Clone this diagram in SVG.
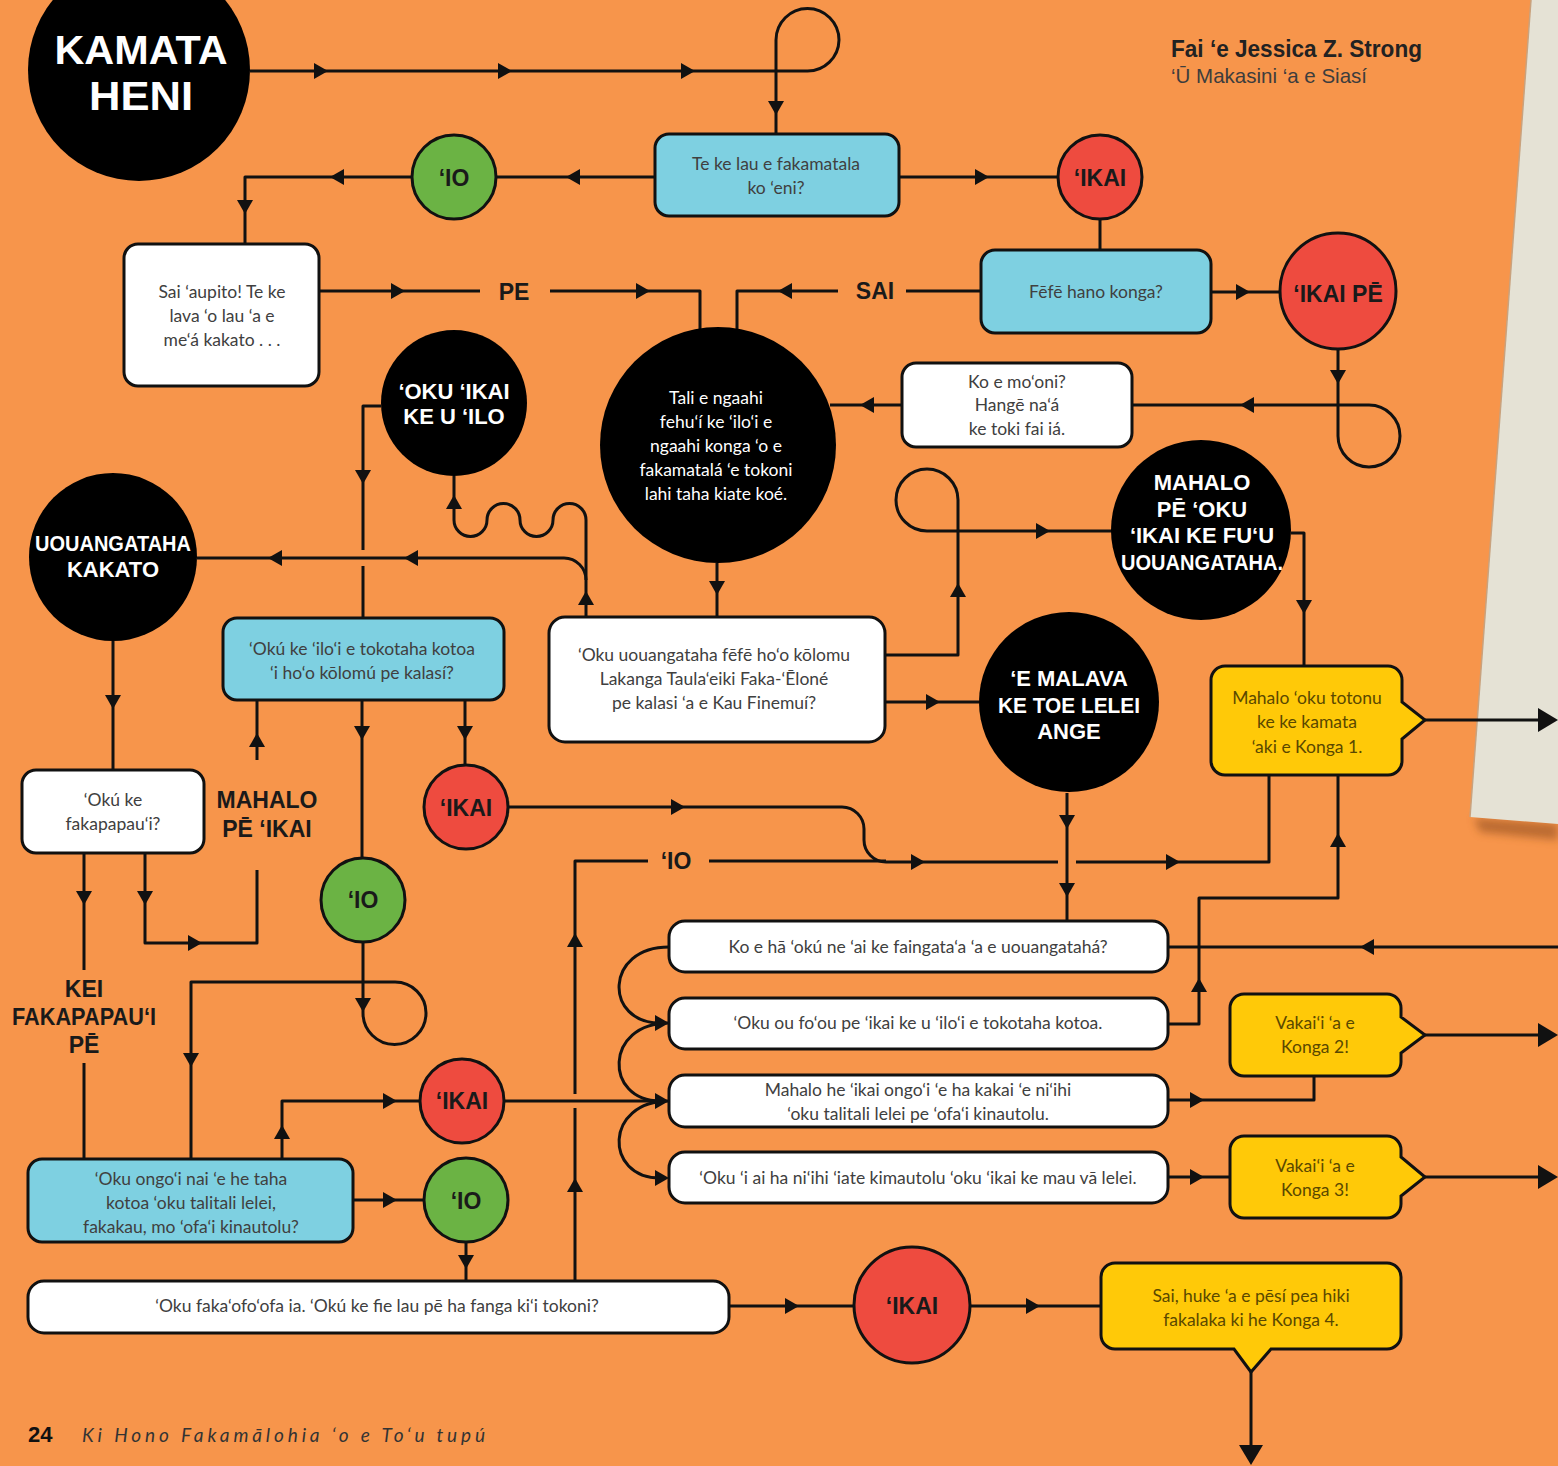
<svg xmlns="http://www.w3.org/2000/svg" width="1558" height="1466" viewBox="0 0 1558 1466">
<defs>
<style>
.ln{fill:none;stroke:#111;stroke-width:3;stroke-linejoin:round}
.bx{stroke:#111;stroke-width:3}
.blue{fill:#7ED0E1}.white{fill:#fff}.yel{fill:#FFC908}.red{fill:#EE4B3F}.grn{fill:#6BB344}.blk{fill:#000}
.t{font-family:Lato,"Open Sans",sans-serif;font-size:17.5px;fill:#404040;text-anchor:middle}
.ty{fill:#5a4800}
.tw{fill:#fff}
.lbl{font-family:"Liberation Sans",Arial,sans-serif;font-weight:700;font-size:23px;fill:#1a1a1a;text-anchor:middle}
.bl{font-family:"Liberation Sans",Arial,sans-serif;font-weight:700;fill:#fff;font-size:22px;text-anchor:middle}
.ah{fill:#111}
</style>
<path id="ah" d="M-7,-8 L7,0 L-7,8 Z"/>
<path id="ahL" d="M-10,-12 L10,0 L-10,12 Z"/>
<filter id="sh" x="-20%" y="-200%" width="140%" height="500%"><feGaussianBlur stdDeviation="4"/></filter>
</defs>

<rect x="0" y="0" width="1558" height="1466" fill="#F7954B"/>
<polygon points="1474,818 1558,824 1558,840 1480,832" fill="#8a4a1c" opacity="0.55" filter="url(#sh)"/>
<polygon points="1531,0 1558,0 1558,824 1470,817" fill="#E5E2D5"/>
<line x1="1531" y1="0" x2="1470" y2="817" stroke="#c9a27e" stroke-width="1.5"/>

<g id="connectors">
<path class="ln" d="M250,71 H807 A31.5,31.5 0 0 0 839,40 A31.5,31.5 0 0 0 776,40 V133"/>
<path class="ln" d="M655,177 H497"/>
<path class="ln" d="M411,177 H245 V244"/>
<path class="ln" d="M899,177 H1057"/>
<path class="ln" d="M1100,219 V249"/>
<path class="ln" d="M1211,292 H1280"/>
<path class="ln" d="M981,291 H906"/>
<path class="ln" d="M838,291 H737 V330"/>
<path class="ln" d="M320,291 H480"/>
<path class="ln" d="M550,291 H700 V330"/>
<path class="ln" d="M1338,349 V436 A31,31 0 0 0 1400,436 A31,31 0 0 0 1369,405 H1132"/>
<path class="ln" d="M901,405 H830"/>
<path class="ln" d="M381,406 H363 V550"/>
<path class="ln" d="M363,566 V618"/>
<path class="ln" d="M586,617 V520 A16.5,16.5 0 0 0 553,520 A16.5,16.5 0 0 1 520,520 A16.5,16.5 0 0 0 487,520 A16.5,16.5 0 0 1 454,520 V476"/>
<path class="ln" d="M586,580 A22,22 0 0 0 564,558 H197"/>
<path class="ln" d="M717,563 V617"/>
<path class="ln" d="M113,641 V770"/>
<path class="ln" d="M362,700 V858"/>
<path class="ln" d="M465,700 V765"/>
<path class="ln" d="M145,853 V943 H257 V870"/>
<path class="ln" d="M257,760 V700"/>
<path class="ln" d="M84,853 V970"/>
<path class="ln" d="M84,1063 V1159"/>
<path class="ln" d="M508,807 H842 A22,22 0 0 1 864,829 V840 A22,22 0 0 0 886,862 H1058"/>
<path class="ln" d="M1076,862 H1269 V775"/>
<path class="ln" d="M575,1281 V1108"/>
<path class="ln" d="M575,1094 V861 H648"/>
<path class="ln" d="M709,861 H886"/>
<path class="ln" d="M1067,793 V921"/>
<path class="ln" d="M886,702 H979"/>
<path class="ln" d="M886,655 H958 V500 A31,31 0 0 0 896,500 A31,31 0 0 0 927,531 H1112"/>
<path class="ln" d="M1291,533 H1304 V666"/>
<path class="ln" d="M1425,720 H1548"/>
<path class="ln" d="M1558,947 H1168"/>
<path class="ln" d="M1168,1024 H1199 V898 H1338 V775"/>
<path class="ln" d="M669,947 C604,947 604,1023 660,1023"/>
<path class="ln" d="M669,1023 C604,1023 604,1101 660,1101"/>
<path class="ln" d="M669,1101 C604,1101 604,1178 660,1178"/>
<path class="ln" d="M1168,1100 H1314 V1076"/>
<path class="ln" d="M1425,1035 H1548"/>
<path class="ln" d="M1168,1177 H1230"/>
<path class="ln" d="M1425,1177 H1548"/>
<path class="ln" d="M282,1159 V1101 H420"/>
<path class="ln" d="M504,1101 H660"/>
<path class="ln" d="M353,1200 H424"/>
<path class="ln" d="M466,1242 V1281"/>
<path class="ln" d="M729,1306 H854"/>
<path class="ln" d="M970,1306 H1101"/>
<path class="ln" d="M1251,1372 V1450"/>
<path class="ln" d="M363,942 V1013 A31,31 0 0 0 426,1013 A31,31 0 0 0 395,982 H191 V1159"/>

<g class="ah">
<use href="#ah" transform="translate(321,71)"/>
<use href="#ah" transform="translate(505,71)"/>
<use href="#ah" transform="translate(688,71)"/>
<use href="#ah" transform="translate(776,108) rotate(90)"/>
<use href="#ah" transform="translate(573,177) rotate(180)"/>
<use href="#ah" transform="translate(337,177) rotate(180)"/>
<use href="#ah" transform="translate(245,207) rotate(90)"/>
<use href="#ah" transform="translate(982,177)"/>
<use href="#ah" transform="translate(1243,292)"/>
<use href="#ah" transform="translate(785,291) rotate(180)"/>
<use href="#ah" transform="translate(398,291)"/>
<use href="#ah" transform="translate(643,291)"/>
<use href="#ah" transform="translate(1338,377) rotate(90)"/>
<use href="#ah" transform="translate(1247,405) rotate(180)"/>
<use href="#ah" transform="translate(867,405) rotate(180)"/>
<use href="#ah" transform="translate(363,477) rotate(90)"/>
<use href="#ah" transform="translate(454,502) rotate(-90)"/>
<use href="#ah" transform="translate(586,598) rotate(-90)"/>
<use href="#ah" transform="translate(411,558) rotate(180)"/>
<use href="#ah" transform="translate(275,558) rotate(180)"/>
<use href="#ah" transform="translate(717,588) rotate(90)"/>
<use href="#ah" transform="translate(113,702) rotate(90)"/>
<use href="#ah" transform="translate(362,733) rotate(90)"/>
<use href="#ah" transform="translate(465,733) rotate(90)"/>
<use href="#ah" transform="translate(145,898) rotate(90)"/>
<use href="#ah" transform="translate(195,943)"/>
<use href="#ah" transform="translate(257,740) rotate(-90)"/>
<use href="#ah" transform="translate(84,898) rotate(90)"/>
<use href="#ah" transform="translate(678,807)"/>
<use href="#ah" transform="translate(918,862)"/>
<use href="#ah" transform="translate(1173,862)"/>
<use href="#ah" transform="translate(575,940) rotate(-90)"/>
<use href="#ah" transform="translate(575,1185) rotate(-90)"/>
<use href="#ah" transform="translate(1067,822) rotate(90)"/>
<use href="#ah" transform="translate(1067,890) rotate(90)"/>
<use href="#ah" transform="translate(933,702)"/>
<use href="#ah" transform="translate(958,590) rotate(-90)"/>
<use href="#ah" transform="translate(1043,531)"/>
<use href="#ah" transform="translate(1304,607) rotate(90)"/>
<use href="#ah" transform="translate(1367,947) rotate(180)"/>
<use href="#ah" transform="translate(1199,985) rotate(-90)"/>
<use href="#ah" transform="translate(1338,840) rotate(-90)"/>
<use href="#ah" transform="translate(1197,1100)"/>
<use href="#ah" transform="translate(1197,1177)"/>
<use href="#ah" transform="translate(282,1132) rotate(-90)"/>
<use href="#ah" transform="translate(390,1101)"/>
<use href="#ah" transform="translate(390,1200)"/>
<use href="#ah" transform="translate(466,1262) rotate(90)"/>
<use href="#ah" transform="translate(792,1306)"/>
<use href="#ah" transform="translate(1033,1306)"/>
<use href="#ah" transform="translate(363,1005) rotate(90)"/>
<use href="#ah" transform="translate(191,1060) rotate(90)"/>
<use href="#ah" transform="translate(662,1023)"/>
<use href="#ah" transform="translate(662,1101)"/>
<use href="#ah" transform="translate(662,1178)"/>
<use href="#ahL" transform="translate(1548,720)"/>
<use href="#ahL" transform="translate(1548,1035)"/>
<use href="#ahL" transform="translate(1548,1177)"/>
<use href="#ahL" transform="translate(1251,1455) rotate(90)"/>
</g>
</g>

<g id="labels">
<text class="lbl" x="514" y="300">PE</text>
<text class="lbl" x="875" y="299">SAI</text>
<text class="lbl" x="676" y="869">‘IO</text>
<text class="lbl" x="267" y="808" font-size="22">MAHALO</text>
<text class="lbl" x="267" y="837" font-size="22">PĒ ‘IKAI</text>
<text class="lbl" x="84" y="997" font-size="22">KEI</text>
<text class="lbl" x="84" y="1025" font-size="22" textLength="144" lengthAdjust="spacingAndGlyphs">FAKAPAPAU‘I</text>
<text class="lbl" x="84" y="1053" font-size="22">PĒ</text>
</g>

<g id="n-kamata">
<circle class="blk" cx="139" cy="70" r="111"/>
<text x="141" y="64" font-family="'Liberation Sans',Arial,sans-serif" font-weight="700" font-size="41" fill="#fff" text-anchor="middle" textLength="173" lengthAdjust="spacingAndGlyphs">KAMATA</text>
<text x="141" y="110" font-family="'Liberation Sans',Arial,sans-serif" font-weight="700" font-size="41" fill="#fff" text-anchor="middle" textLength="104" lengthAdjust="spacingAndGlyphs">HENI</text>
</g>

<g id="n-telau">
<rect class="bx blue" x="655" y="134" width="244" height="82" rx="14"/>
<text class="t" x="776" y="170">Te ke lau e fakamatala</text>
<text class="t" x="776" y="194">ko ‘eni?</text>
</g>

<g id="n-io1"><circle class="bx grn" cx="454" cy="177" r="42"/><text class="lbl" x="454" y="186">‘IO</text></g>
<g id="n-ikai1"><circle class="bx red" cx="1100" cy="177" r="42"/><text class="lbl" x="1100" y="186">‘IKAI</text></g>

<g id="n-saiaupito">
<rect class="bx white" x="124" y="244" width="195" height="142" rx="14"/>
<text class="t" x="222" y="298">Sai ‘aupito! Te ke</text>
<text class="t" x="222" y="322">lava ‘o lau ‘a e</text>
<text class="t" x="222" y="346">me‘á kakato . . .</text>
</g>

<g id="n-fefe">
<rect class="bx blue" x="981" y="250" width="230" height="83" rx="14"/>
<text class="t" x="1096" y="298">Fēfē hano konga?</text>
</g>

<g id="n-ikaipe"><circle class="bx red" cx="1338" cy="291" r="58"/><text class="lbl" x="1338" y="302">‘IKAI PĒ</text></g>

<g id="n-komooni">
<rect class="bx white" x="902" y="363" width="230" height="84" rx="14"/>
<text class="t" x="1017" y="388">Ko e mo‘oni?</text>
<text class="t" x="1017" y="411">Hangē na‘á</text>
<text class="t" x="1017" y="435">ke toki fai iá.</text>
</g>

<g id="n-tali">
<circle class="blk" cx="718" cy="445" r="118"/>
<text class="t tw" x="716" y="404">Tali e ngaahi</text>
<text class="t tw" x="716" y="428">fehu‘í ke ‘ilo‘i e</text>
<text class="t tw" x="716" y="452">ngaahi konga ‘o e</text>
<text class="t tw" x="716" y="476">fakamatalá ‘e tokoni</text>
<text class="t tw" x="716" y="500">lahi taha kiate koé.</text>
</g>

<g id="n-okuikai">
<circle class="blk" cx="454" cy="403" r="73"/>
<text class="bl" x="454" y="399" font-size="23">‘OKU ‘IKAI</text>
<text class="bl" x="454" y="424" font-size="23">KE U ‘ILO</text>
</g>

<g id="n-kakato">
<circle class="blk" cx="113" cy="557" r="84"/>
<text class="bl" x="113" y="551" font-size="21" textLength="156" lengthAdjust="spacingAndGlyphs">UOUANGATAHA</text>
<text class="bl" x="113" y="577" font-size="21">KAKATO</text>
</g>

<g id="n-mahalope">
<circle class="blk" cx="1201" cy="530" r="90"/>
<text class="bl" x="1202" y="490" font-size="21">MAHALO</text>
<text class="bl" x="1202" y="517" font-size="21">PĒ ‘OKU</text>
<text class="bl" x="1202" y="543" font-size="21">‘IKAI KE FU‘U</text>
<text class="bl" x="1202" y="570" font-size="21" textLength="162" lengthAdjust="spacingAndGlyphs">UOUANGATAHA.</text>
</g>

<g id="n-iloi">
<rect class="bx blue" x="223" y="618" width="281" height="82" rx="14"/>
<text class="t" x="362" y="655">‘Okú ke ‘ilo‘i e tokotaha kotoa</text>
<text class="t" x="362" y="679">‘i ho‘o kōlomú pe kalasí?</text>
</g>

<g id="n-fefekolomu">
<rect class="bx white" x="549" y="617" width="336" height="125" rx="16"/>
<text class="t" x="714" y="661">‘Oku uouangataha fēfē ho‘o kōlomu</text>
<text class="t" x="714" y="685">Lakanga Taula‘eiki Faka-‘Ēloné</text>
<text class="t" x="714" y="709">pe kalasi ‘a e Kau Finemuí?</text>
</g>

<g id="n-emalava">
<circle class="blk" cx="1069" cy="702" r="90"/>
<text class="bl" x="1069" y="686" font-size="23">‘E MALAVA</text>
<text class="bl" x="1069" y="713" font-size="23" textLength="142" lengthAdjust="spacingAndGlyphs">KE TOE LELEI</text>
<text class="bl" x="1069" y="739" font-size="23">ANGE</text>
</g>

<g id="n-totonu">
<path class="bx yel" d="M1225,666 H1388 A14,14 0 0 1 1402,680 V702 L1425,720 L1402,739 V761 A14,14 0 0 1 1388,775 H1225 A14,14 0 0 1 1211,761 V680 A14,14 0 0 1 1225,666 Z"/>
<text class="t ty" x="1307" y="704">Mahalo ‘oku totonu</text>
<text class="t ty" x="1307" y="728">ke ke kamata</text>
<text class="t ty" x="1307" y="753">‘aki e Konga 1.</text>
</g>

<g id="n-fakapapau">
<rect class="bx white" x="22" y="770" width="182" height="83" rx="14"/>
<text class="t" x="113" y="806">‘Okú ke</text>
<text class="t" x="113" y="830">fakapapau‘i?</text>
</g>

<g id="n-ikai2"><circle class="bx red" cx="466" cy="807" r="42"/><text class="lbl" x="466" y="816">‘IKAI</text></g>
<g id="n-io2"><circle class="bx grn" cx="363" cy="900" r="42"/><text class="lbl" x="363" y="908">‘IO</text></g>

<g id="n-koeha">
<rect class="bx white" x="669" y="921" width="499" height="51" rx="16"/>
<text class="t" x="918" y="953">Ko e hā ‘okú ne ‘ai ke faingata‘a ‘a e uouangatahá?</text>
</g>
<g id="n-fofou">
<rect class="bx white" x="669" y="998" width="499" height="51" rx="16"/>
<text class="t" x="918" y="1029">‘Oku ou fo‘ou pe ‘ikai ke u ‘ilo‘i e tokotaha kotoa.</text>
</g>
<g id="n-mahalohe">
<rect class="bx white" x="669" y="1075" width="499" height="52" rx="16"/>
<text class="t" x="918" y="1096">Mahalo he ‘ikai ongo‘i ‘e ha kakai ‘e ni‘ihi</text>
<text class="t" x="918" y="1120">‘oku talitali lelei pe ‘ofa‘i kinautolu.</text>
</g>
<g id="n-iai">
<rect class="bx white" x="669" y="1152" width="499" height="51" rx="16"/>
<text class="t" x="918" y="1184">‘Oku ‘i ai ha ni‘ihi ‘iate kimautolu ‘oku ‘ikai ke mau vā lelei.</text>
</g>

<g id="n-konga2">
<path class="bx yel" d="M1244,994 H1387 A14,14 0 0 1 1401,1008 V1017 L1425,1035 L1401,1053 V1062 A14,14 0 0 1 1387,1076 H1244 A14,14 0 0 1 1230,1062 V1008 A14,14 0 0 1 1244,994 Z"/>
<text class="t ty" x="1315" y="1029">Vakai‘i ‘a e</text>
<text class="t ty" x="1315" y="1053">Konga 2!</text>
</g>
<g id="n-konga3">
<path class="bx yel" d="M1244,1136 H1387 A14,14 0 0 1 1401,1150 V1157 L1425,1177 L1401,1196 V1204 A14,14 0 0 1 1387,1218 H1244 A14,14 0 0 1 1230,1204 V1150 A14,14 0 0 1 1244,1136 Z"/>
<text class="t ty" x="1315" y="1172">Vakai‘i ‘a e</text>
<text class="t ty" x="1315" y="1196">Konga 3!</text>
</g>

<g id="n-ikai3"><circle class="bx red" cx="462" cy="1101" r="42"/><text class="lbl" x="462" y="1109">‘IKAI</text></g>
<g id="n-io3"><circle class="bx grn" cx="466" cy="1200" r="42"/><text class="lbl" x="466" y="1209">‘IO</text></g>

<g id="n-ongoi">
<rect class="bx blue" x="28" y="1159" width="325" height="83" rx="14"/>
<text class="t" x="191" y="1185">‘Oku ongo‘i nai ‘e he taha</text>
<text class="t" x="191" y="1209">kotoa ‘oku talitali lelei,</text>
<text class="t" x="191" y="1233">fakakau, mo ‘ofa‘i kinautolu?</text>
</g>

<g id="n-fakaofoofa">
<rect class="bx white" x="28" y="1281" width="701" height="52" rx="16"/>
<text class="t" x="377" y="1312">‘Oku faka‘ofo‘ofa ia. ‘Okú ke fie lau pē ha fanga ki‘i tokoni?</text>
</g>

<g id="n-ikai4"><circle class="bx red" cx="912" cy="1305" r="58"/><text class="lbl" x="912" y="1314">‘IKAI</text></g>

<g id="n-konga4">
<path class="bx yel" d="M1115,1263 H1387 A14,14 0 0 1 1401,1277 V1335 A14,14 0 0 1 1387,1349 H1271 L1251,1372 L1234,1349 H1115 A14,14 0 0 1 1101,1335 V1277 A14,14 0 0 1 1115,1263 Z"/>
<text class="t ty" x="1251" y="1302">Sai, huke ‘a e pēsí pea hiki</text>
<text class="t ty" x="1251" y="1326">fakalaka ki he Konga 4.</text>
</g>

<g id="header-footer">
<text x="1171" y="57" font-family="'Liberation Sans',Arial,sans-serif" font-weight="700" font-size="24" fill="#222" textLength="251" lengthAdjust="spacingAndGlyphs">Fai ‘e Jessica Z. Strong</text>
<text x="1171" y="83" font-family="'Liberation Sans',Arial,sans-serif" font-size="21" fill="#3d3d3d" textLength="196" lengthAdjust="spacingAndGlyphs">‘Ū Makasini ‘a e Siasí</text>
<text x="28" y="1442" font-family="'Liberation Sans',Arial,sans-serif" font-weight="700" font-size="22" fill="#111">24</text>
<text x="82" y="1442" font-family="Lato,'Open Sans',sans-serif" font-style="italic" font-size="19" fill="#333" textLength="403" lengthAdjust="spacing">Ki Hono Fakamālohia ‘o e To‘u tupú</text>
</g>
</svg>
